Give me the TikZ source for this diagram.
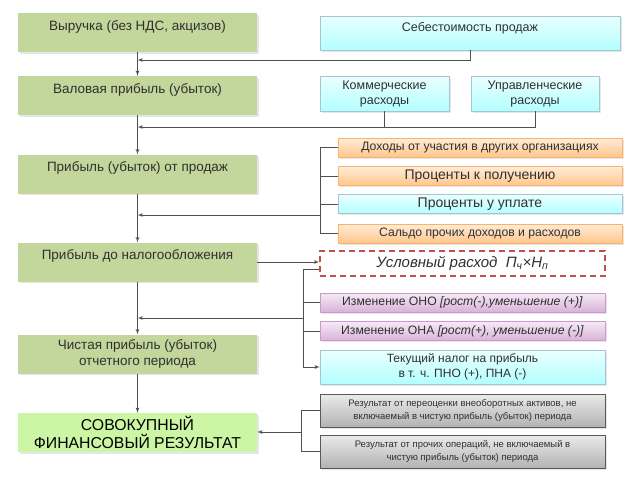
\documentclass[tikz,border=0pt]{standalone}
\usepackage{fontspec}
\setmainfont{Liberation Sans}
\usetikzlibrary{positioning,arrows,shadows}
\definecolor{textgrey}{HTML}{303030}
\definecolor{linegrey}{HTML}{505050}
\definecolor{profitgreen}{HTML}{C3D69B}
\definecolor{totalgreen}{HTML}{CCF5A4}
\definecolor{dashred}{HTML}{C0504D}
\tikzstyle{profit} = [rectangle, fill=profitgreen, text=textgrey, minimum width=239pt,
  minimum height=39pt, inner sep=2pt, align=center, font=\fontsize{13.5}{16}\selectfont,
  drop shadow={opacity=0.2, shadow xshift=1.5pt, shadow yshift=-1.5pt}]
\tikzstyle{total} = [profit, fill=totalgreen, text=black, font=\fontsize{15.8}{18}\selectfont]
\tikzstyle{raised} = [text height=9.5pt, text depth=14.5pt]
\tikzstyle{cost} = [rectangle, draw=cyan!40!gray!60, top color=cyan!8, bottom color=cyan!30,
  text=textgrey, inner sep=2pt, align=center, font=\fontsize{12.5}{15}\selectfont,
  drop shadow={opacity=0.2, shadow xshift=1.5pt, shadow yshift=-1.5pt}]
\tikzstyle{income} = [cost, draw=orange!60, top color=orange!15, bottom color=orange!45,
  minimum width=284pt, minimum height=19pt, font=\fontsize{12.2}{14}\selectfont]
\tikzstyle{tax} = [cost, draw=violet!40, top color=violet!8, bottom color=violet!30,
  minimum width=285pt, minimum height=19pt, font=\fontsize{12.2}{14}\selectfont]
\tikzstyle{other} = [cost, draw=black!65, top color=black!8, bottom color=black!30,
  minimum width=285pt, minimum height=33pt, font=\fontsize{9.5}{13}\selectfont]
\tikzstyle{cond} = [rectangle, draw=dashred, line width=1.2pt, dash pattern=on 6pt off 4pt,
  minimum width=285pt, minimum height=25pt, text=textgrey,
  font=\fontsize{15}{17}\selectfont\itshape]
\tikzstyle{line} = [draw=linegrey, -latex', thick]
\tikzstyle{bracket} = [draw=linegrey, thick]

\begin{document}
\begin{tikzpicture}[x=1pt, y=-1pt]
    \useasboundingbox (0,0) rectangle (640,480);
    % left column
    \node[profit, raised] (revenue) at (137.5,32.5) {Выручка (без НДС, акцизов)};
    \node[profit, raised, below of=revenue, node distance=63pt] (gross) {Валовая прибыль  (убыток)};
    \node[profit, raised, below of=gross, node distance=78.5pt] (sales) {Прибыль (убыток) от продаж};
    \node[profit, raised, below of=sales, node distance=88pt] (pretax) {Прибыль до налогообложения};
    \node[profit, below of=pretax, node distance=92pt] (net) {Чистая прибыль (убыток)\\отчетного периода};
    \node[total, below of=net, node distance=78.5pt] (total) {СОВОКУПНЫЙ\\ФИНАНСОВЫЙ РЕЗУЛЬТАТ};

    % costs
    \node[cost, minimum width=300pt, minimum height=34pt, text height=9pt, text depth=12pt] (cogs) at (470,33) {Себестоимость продаж};
    \node[cost, minimum width=129pt, minimum height=35pt] (commerce) at (384.5,93.5) {Коммерческие\\расходы};
    \node[cost, minimum width=128pt, minimum height=35pt, right of=commerce, node distance=150.5pt] (admin) {Управленческие\\расходы};

    % other income and expenses
    \node[income] (participation) at (480,147.5) {Доходы от участия в других организациях};
    \node[income, below of=participation, node distance=28.5pt, font=\fontsize{14}{16}\selectfont] (received) {Проценты к получению};
    \node[cost, minimum width=284pt, minimum height=19pt, below of=received, node distance=28pt, font=\fontsize{14}{16}\selectfont] (paid) {Проценты у уплате};
    \node[income, below of=paid, node distance=29.5pt] (saldo) {Сальдо прочих доходов и расходов};

    % tax
    \node[cond] (conditional) at (462.5,263.5) {Условный расход\ \ П\textsubscript{ч}×Н\textsubscript{п}};
    \node[tax] (dtl) at (462.5,302.5) {Изменение ОНО \textit{[рост(-),уменьшение (+)]}};
    \node[tax, below of=dtl, node distance=28.5pt] (dta) {Изменение ОНА \textit{[рост(+), уменьшение (-)]}};
    \node[cost, minimum width=285pt, minimum height=34pt, below of=dta, node distance=36pt, font=\fontsize{12}{15}\selectfont] (current) {Текущий налог на прибыль\\в т. ч. ПНО (+), ПНА (-)};

    % not in net profit
    \node[other] (revaluation) at (462.5,410.5) {Результат от переоценки внеоборотных активов, не\\включаемый в чистую прибыль (убыток) периода};
    \node[other, below of=revaluation, node distance=41pt] (otherops) {Результат от прочих операций, не включаемый в\\чистую прибыль (убыток) периода};

    \coordinate (j1) at (137.5,60);
    \coordinate (j2) at (137.5,127);
    \coordinate (j3) at (137.5,215);
    \coordinate (j4) at (137.5,318);
    \coordinate (b1) at (320,215);
    \coordinate (b2) at (303,318);
    \coordinate (b3) at (301,432);
    \coordinate (condlow) at ([yshift=7pt]conditional.south west);

    \path[line] (revenue) -- (gross);
    \path[line] (gross) -- (sales);
    \path[line] (sales) -- (pretax);
    \path[line] (pretax) -- (net);
    \path[line] (net) -- (total);

    \path[line] (cogs.south) |- (j1);
    \path[bracket] (commerce.south) -- (commerce.south |- j2);
    \path[line] (admin.south) |- (j2);

    \path[bracket] (participation.west) -| (saldo.west -| b1) -- (saldo.west);
    \path[bracket] (received.west) -- (received.west -| b1);
    \path[bracket] (paid.west) -- (paid.west -| b1);
    \path[line] (b1) -- (j3);

    \path[line] (pretax.east) -- (pretax.east -| conditional.west);
    \path[line] (condlow) -| (current.west -| b2) -- (current.west);
    \path[bracket] (dtl.west) -- (dtl.west -| b2);
    \path[bracket] (dta.west) -- (dta.west -| b2);
    \path[line] (b2) -- (j4);

    \path[bracket] (revaluation.west) -| (otherops.west -| b3) -- (otherops.west);
    \path[line] (b3) -- (b3 -| total.east);
  \end{tikzpicture}
\end{document}
